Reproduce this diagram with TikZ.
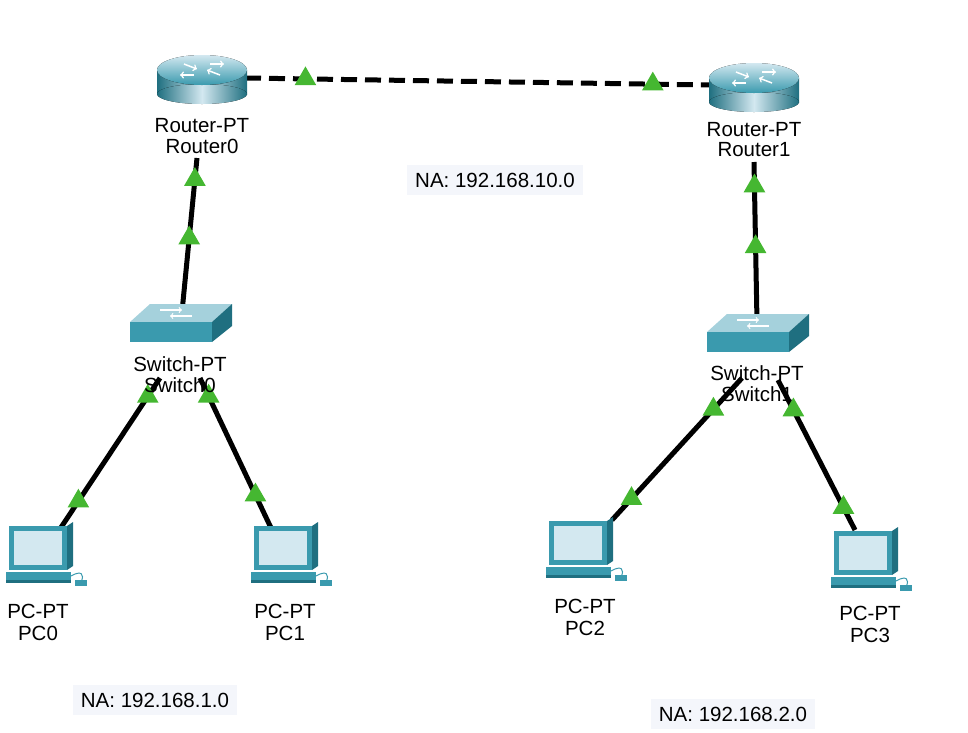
\documentclass[tikz,border=0pt]{standalone}
\usepackage{fontspec}
\setmainfont{Liberation Sans}
\usetikzlibrary{shapes.geometric}
\definecolor{ptgreen}{HTML}{45B731}
\definecolor{ptteal}{HTML}{3A9AAE}
\definecolor{ptdark}{HTML}{1F6F80}
\definecolor{ptscreen}{HTML}{D3E8F0}
\definecolor{nabox}{HTML}{F4F6FB}
\tikzset{
  link/.style={line width=5pt},
  tri/.style={regular polygon,regular polygon sides=3,fill=ptgreen,inner sep=0pt,minimum size=25pt},
  lbl/.style={font=\fontsize{20.5}{22}\selectfont,inner sep=0pt},
  na/.style={fill=nabox,font=\fontsize{20.5}{22}\selectfont,inner xsep=8pt,inner ysep=8pt},
  pics/router/.style={code={
    \fill[left color=ptdark,right color=ptdark,middle color=ptscreen] (-45,-8) rectangle (45,16);
    \fill[left color=ptdark,right color=ptdark,middle color=ptscreen] (0,16) ellipse (45 and 10);
    \fill[top color=ptscreen,bottom color=ptteal] (0,-8) ellipse (45 and 15);
    \draw[white,line width=1.5pt,->] (-18,-14) -- (-5,-9);
    \draw[white,line width=1.5pt,->] (18,-3) -- (5,-8);
    \draw[white,line width=1.5pt,->] (-8,-3) -- (-22,-3);
    \draw[white,line width=1.5pt,->] (8,-14) -- (22,-14);
  }},
  pics/switch/.style={code={
    \fill[ptscreen!70!ptteal] (-50,-4) -- (-30,-22) -- (52,-22) -- (32,-4) -- cycle;
    \fill[ptteal] (-50,-4) rectangle (32,16);
    \fill[ptdark] (32,-4) -- (52,-22) -- (52,0) -- (32,16) -- cycle;
    \draw[white,line width=1.2pt,->] (-20,-16) -- (2,-16);
    \draw[white,line width=1.2pt,->] (12,-10) -- (-10,-10);
  }},
  pics/pc/.style={code={
    \fill[ptteal] (-31,-34) rectangle (27,10);
    \fill[ptdark] (27,-34) -- (33,-38) -- (33,6) -- (27,10) -- cycle;
    \fill[ptscreen] (-26,-29) rectangle (22,5);
    \fill[ptteal] (-34,12) rectangle (31,20);
    \fill[ptdark] (-34,20) rectangle (31,23);
    \draw[ptteal,line width=1pt] (31,16) .. controls (41,10) and (45,14) .. (41,22);
    \fill[ptteal] (35,20) rectangle (47,26);
  }}
}
\begin{document}
\begin{tikzpicture}[x=1pt,y=-1pt]
\useasboundingbox (0,0) rectangle (968,732);
% ports
\coordinate (r0e) at (245,78);
\coordinate (r1w) at (710,85);
\coordinate (r0s) at (197,158);
\coordinate (sw0n) at (182,312);
\coordinate (r1s) at (754,162);
\coordinate (sw1n) at (757,322);
\coordinate (sw0l) at (160,378);
\coordinate (sw0r) at (200,378);
\coordinate (sw1l) at (742,378);
\coordinate (sw1r) at (778,380);
\coordinate (pc0p) at (58,532);
\coordinate (pc1p) at (272,530);
\coordinate (pc2p) at (612,520);
\coordinate (pc3p) at (855,530);
% links
\draw[link,dash pattern=on 16pt off 8pt] (r0e) -- (r1w)
  node[tri,pos=0.13] {} node[tri,pos=0.877] {};
\draw[link] (r0s) -- (sw0n) node[tri,pos=0.14] {} node[tri,pos=0.52] {};
\draw[link] (r1s) -- (sw1n) node[tri,pos=0.15] {} node[tri,pos=0.53] {};
\draw[link] (sw0l) -- (pc0p) node[tri,pos=0.12] {} node[tri,pos=0.8] {};
\draw[link] (sw0r) -- (pc1p) node[tri,pos=0.12] {} node[tri,pos=0.77] {};
\draw[link] (sw1l) -- (pc2p) node[tri,pos=0.22] {} node[tri,pos=0.85] {};
\draw[link] (sw1r) -- (pc3p) node[tri,pos=0.2] {} node[tri,pos=0.85] {};
% devices
\pic at (202,78) {router};
\pic at (754,86) {router};
\pic at (180,326) {switch};
\pic at (757,336) {switch};
\pic at (40,560) {pc};
\pic at (285,560) {pc};
\pic at (580,555) {pc};
\pic at (865,565) {pc};
% labels
\node[lbl] (router0) at (202,126) {Router-PT};
\node[lbl] at (202,146) {Router0};
\node[lbl] (router1) at (754,130) {Router-PT};
\node[lbl] at (754,150) {Router1};
\node[lbl] (switch0) at (180,364) {Switch-PT};
\node[lbl] at (180,385) {Switch0};
\node[lbl] (switch1) at (757,373) {Switch-PT};
\node[lbl] at (757,394) {Switch1};
\node[lbl] (pc0) at (38,611) {PC-PT};
\node[lbl] at (38,633) {PC0};
\node[lbl] (pc1) at (285,611) {PC-PT};
\node[lbl] at (285,633) {PC1};
\node[lbl] (pc2) at (585,606) {PC-PT};
\node[lbl] at (585,628) {PC2};
\node[lbl] (pc3) at (870,613) {PC-PT};
\node[lbl] at (870,635) {PC3};
\node[na] (na10) at (495,180) {NA: 192.168.10.0};
\node[na] (na1) at (155,700) {NA: 192.168.1.0};
\node[na] (na2) at (733,714) {NA: 192.168.2.0};
\end{tikzpicture}
\end{document}
